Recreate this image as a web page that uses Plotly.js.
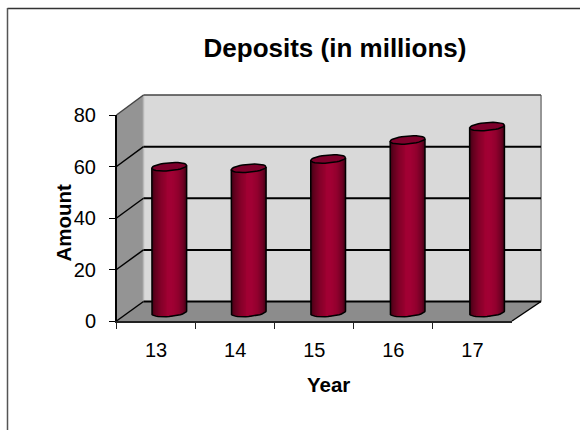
<!DOCTYPE html>
<html><head><meta charset="utf-8">
<script src="https://cdn.plot.ly/plotly-3.0.1.min.js"></script>
<style>html,body{margin:0;padding:0;background:#fff}#c{width:580px;height:430px}</style>
</head><body><div id="c"></div>
<script>
const years = ["13","14","15","16","17"];
const amounts = [56.6, 56.0, 59.6, 67.0, 72.2];
const yTicks = [0,20,40,60,80];
const chartTitle = "Deposits (in millions)";
const xTitle = "Year";
const yTitle = "Amount";
const shadeStops = [[0,[0x3a,0,0x12]],[0.08,[0x5e,0,0x1d]],[0.25,[0x82,0,0x29]],[0.45,[0x9c,0,0x31]],[0.58,[0xa2,0,0x34]],[0.75,[0x92,0,0x2e]],[0.9,[0x70,0,0x24]],[1,[0x40,0,0x14]]];

const W=580,H=430;
const px=x=>x/W, py=y=>1-y/H;
const front={x0:116.5,x1:512,y0:321,y1:115};
const back={x0:143.5,x1:541,y0:301.5,y1:95};
const mid={x0:129.5,x1:526.75,y0:312.5,y1:106.5};
const unitX=(mid.x1-mid.x0)/years.length, unitY=(mid.y0-mid.y1)/80;
const rx=17.4, ry=4, tilt=0.08;
const pos=years.map((_,i)=>i);
const floorPad=6;

function shadeAt(u){
  for(let i=1;i<shadeStops.length;i++){
    const a=shadeStops[i-1],b=shadeStops[i];
    if(u<=b[0]){const f=(u-a[0])/(b[0]-a[0]);
      const c=a[1].map((v,k)=>Math.round(v+(b[1][k]-v)*f));
      return 'rgb('+c.join(',')+')';}
  }
  return 'rgb(64,0,20)';
}
function poly(pts,fill,lw,lc){
  return {type:'path',xref:'paper',yref:'paper',layer:'below',
    path:'M'+pts.map(p=>px(p[0])+','+py(p[1])).join('L')+'Z',
    fillcolor:fill,line:{width:lw,color:lc||fill}};
}
function seg(a,b,c,w){
  return {type:'line',xref:'paper',yref:'paper',layer:'below',
    x0:px(a[0]),y0:py(a[1]),x1:px(b[0]),y1:py(b[1]),line:{color:c,width:w}};
}
const frontY=v=>front.y0+(front.y1-front.y0)*v/80;
const backY=v=>back.y0+(back.y1-back.y0)*v/80;

const shapes=[
  poly([[back.x0,back.y1],[back.x1,back.y1],[back.x1,back.y0],[back.x0,back.y0]],'#d9d9d9',0),
  poly([[front.x0,front.y1],[back.x0,back.y1],[back.x0,back.y0],[front.x0,front.y0]],'#949494',0),
  poly([[front.x0,front.y0],[back.x0,back.y0],[back.x1,back.y0],[front.x1,front.y0]],'#8c8c8c',0),
  seg([back.x1,back.y1],[back.x1,back.y0],'#969696',2),
  seg([back.x0,back.y1],[back.x0,back.y0],'#b8b8b8',1.5),
  seg([front.x1,front.y0],[back.x1,back.y0],'#000',1.5)
];
yTicks.forEach(v=>{
  const c=v===80?'#444':'#000';
  shapes.push(seg([front.x0,frontY(v)],[back.x0,backY(v)],c,1.5));
  shapes.push(seg([back.x0,backY(v)],[back.x1,backY(v)],c,v===80?1.5:2));
});
shapes.push(seg([7.5,8.5],[580,8.5],'#333',1.5));
shapes.push(seg([7.5,8],[7.5,430],'#555',1.5));

const ell=(i,v,t)=>{
  const dx=rx*Math.cos(t), dy=ry*Math.sin(t)+tilt*dx;
  return [pos[i]+dx/unitX, v+dy/unitY];
};

const traces=[{x:years,y:amounts,mode:'none',type:'scatter',xaxis:'x',yaxis:'y',hoverinfo:'skip',showlegend:false}];

const n=35, sw=2*rx/n/unitX, span=4, peak=20;
function strip(s,dir){
  const u=-1+(2*s+1)/n;
  const lower=-ry*Math.sqrt(Math.max(0,1-u*u))/unitY+tilt*rx*u/unitY;
  const shift=tilt*rx*u/unitY;
  const left=-rx/unitX+s*sw;
  traces.push({type:'bar',x:pos,y:amounts.map(v=>v+shift-lower),base:pos.map(()=>lower),
    width:span*sw,offset:dir>0?left:left+sw-span*sw,marker:{color:shadeAt((u+1)/2),line:{width:0}},
    xaxis:'x2',yaxis:'y2',hoverinfo:'skip',showlegend:false});
}
for(let s=n-1;s>peak;s--)strip(s,-1);
for(let s=0;s<=peak-span+1;s++)strip(s,1);
for(let s=peak-span+2;s<=peak;s++)strip(s,-1);

const tops={x:[],y:[]}, outline={x:[],y:[]};
const steps=[...Array(37).keys()].map(k=>k*Math.PI/18);
amounts.forEach((v,i)=>{
  steps.forEach(t=>{const p=ell(i,v,t);tops.x.push(p[0]);tops.y.push(p[1]);outline.x.push(p[0]);outline.y.push(p[1]);});
  tops.x.push(null);tops.y.push(null);outline.x.push(null);outline.y.push(null);
  const a=ell(i,v,Math.PI);outline.x.push(a[0]);outline.y.push(a[1]);
  for(let k=18;k<=36;k++){const p=ell(i,0,k*Math.PI/18);outline.x.push(p[0]);outline.y.push(p[1]);}
  const b=ell(i,v,0);outline.x.push(b[0]);outline.y.push(b[1]);
  outline.x.push(null);outline.y.push(null);
});
traces.push({type:'scatter',mode:'lines',x:tops.x,y:tops.y,fill:'toself',fillcolor:'#7d002b',line:{width:0,color:'#7d002b'},
  xaxis:'x2',yaxis:'y2',cliponaxis:false,hoverinfo:'skip',showlegend:false});
traces.push({type:'scatter',mode:'lines',x:outline.x,y:outline.y,line:{width:1.5,color:'#000'},
  xaxis:'x2',yaxis:'y2',cliponaxis:false,hoverinfo:'skip',showlegend:false});

const font={family:'"Liberation Sans",Arial,sans-serif',color:'#000'};
const layout={
  width:W,height:H,margin:{l:0,r:0,t:0,b:0,pad:0},
  paper_bgcolor:'#fff',plot_bgcolor:'rgba(0,0,0,0)',showlegend:false,barmode:'overlay',
  title:{text:'<b>'+chartTitle+'</b>',x:335/W,y:1-48/H,xref:'paper',yref:'paper',xanchor:'center',yanchor:'middle',
    font:{...font,size:26}},
  annotations:[
    {text:'<b>'+xTitle+'</b>',xref:'paper',yref:'paper',x:px(328),y:py(384),xanchor:'center',yanchor:'middle',showarrow:false,font:{...font,size:20.5}},
    {text:'<b>'+yTitle+'</b>',xref:'paper',yref:'paper',x:px(63),y:py(222.5),xanchor:'center',yanchor:'middle',textangle:-90,showarrow:false,font:{...font,size:20.5}}
  ],
  xaxis:{domain:[px(front.x0),px(front.x1)],type:'category',categoryorder:'array',categoryarray:years,range:[-0.5,4.5],
    anchor:'y',tickson:'boundaries',ticks:'outside',ticklen:6,tickwidth:1,tickcolor:'#222',
    showline:true,linecolor:'#222',linewidth:1.5,showgrid:false,zeroline:false,ticklabelstandoff:10,
    tickfont:{...font,size:20}},
  yaxis:{domain:[py(front.y0),py(front.y1)],range:[0,80],tickvals:yTicks,anchor:'x',
    ticks:'outside',ticklen:6,tickwidth:1,tickcolor:'#000',
    showline:true,linecolor:'#000',linewidth:1.5,showgrid:false,zeroline:false,ticklabelstandoff:9,
    tickfont:{...font,size:20}},
  xaxis2:{domain:[px(mid.x0),px(mid.x1)],range:[-0.5,4.5],anchor:'y2',visible:false},
  yaxis2:{domain:[py(mid.y0+floorPad*unitY),py(mid.y1)],range:[-floorPad,80],anchor:'x2',visible:false},
  shapes:shapes
};
Plotly.newPlot('c',traces,layout,{displayModeBar:false,staticPlot:true});
</script></body></html>
